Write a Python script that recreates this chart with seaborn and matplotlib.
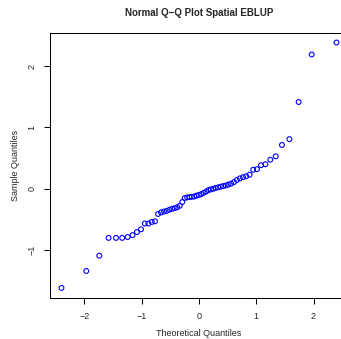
import matplotlib
matplotlib.use("Agg")
import matplotlib.pyplot as plt
import seaborn as sns
import pandas as pd

theoretical = [-2.400, -1.967, -1.740, -1.578, -1.448, -1.340, -1.245, -1.160, -1.083, -1.012,
               -0.946, -0.883, -0.824, -0.768, -0.714, -0.662, -0.611, -0.562, -0.515, -0.468,
               -0.423, -0.379, -0.335, -0.292, -0.249, -0.207, -0.165, -0.124, -0.082, -0.041,
               0.000, 0.041, 0.082, 0.124, 0.165, 0.207, 0.249, 0.292, 0.335, 0.379,
               0.423, 0.468, 0.515, 0.562, 0.611, 0.662, 0.714, 0.768, 0.824, 0.883,
               0.946, 1.012, 1.083, 1.160, 1.245, 1.340, 1.448, 1.578, 1.740, 1.967, 2.400]
sample = [-1.615, -1.34, -1.09, -0.80, -0.80, -0.80, -0.785, -0.755, -0.705, -0.66,
          -0.565, -0.565, -0.54, -0.53, -0.41, -0.385, -0.37, -0.36, -0.34, -0.325,
          -0.315, -0.30, -0.275, -0.215, -0.15, -0.14, -0.135, -0.13, -0.125, -0.11,
          -0.10, -0.085, -0.065, -0.045, -0.02, -0.01, 0.0, 0.015, 0.025, 0.035,
          0.045, 0.055, 0.07, 0.085, 0.11, 0.145, 0.17, 0.19, 0.205, 0.23,
          0.31, 0.32, 0.385, 0.40, 0.475, 0.53, 0.715, 0.81, 1.415, 2.19, 2.385]
xticks = [-2, -1, 0, 1, 2]
yticks = [-1, 0, 1, 2]
title = "Normal Q\u2212Q Plot Spatial EBLUP"
xlabel = "Theoretical Quantiles"
ylabel = "Sample Quantiles"

sns.set_style("ticks")
plt.rcParams['font.family'] = ['Liberation Sans', 'DejaVu Sans']

df = pd.DataFrame({"x": theoretical, "y": sample})

fig = plt.figure(figsize=(3.41, 3.39), dpi=100)
ax = fig.add_axes([0.1475, 0.1218, 0.872, 0.7817])
sns.scatterplot(data=df, x="x", y="y", ax=ax, marker="o", s=12,
                facecolors="none", edgecolor="#0000ff", linewidth=0.8)
ax.set_xlim(-2.595, 2.595)
ax.set_ylim(-1.775, 2.545)
ax.set_xticks(xticks)
ax.set_yticks(yticks)
ax.set_xticklabels([str(t).replace("-", "\u2212") for t in xticks], fontsize=6.5)
ax.set_yticklabels([str(t).replace("-", "\u2212") for t in yticks], fontsize=6.5,
                   rotation=90, va="center")
ax.tick_params(axis="both", length=4, width=0.75, color="black", pad=6)
for s in ax.spines.values():
    s.set_visible(True)
    s.set_linewidth(0.75)
    s.set_color("black")
ax.set_xlabel(xlabel, fontsize=6.5, labelpad=6)
ax.set_ylabel(ylabel, fontsize=6.5, labelpad=5)
fig.text(0.585, 0.963, title, ha="center", va="center", fontsize=7, fontweight="bold")
fig.savefig("out.png", dpi=100)
